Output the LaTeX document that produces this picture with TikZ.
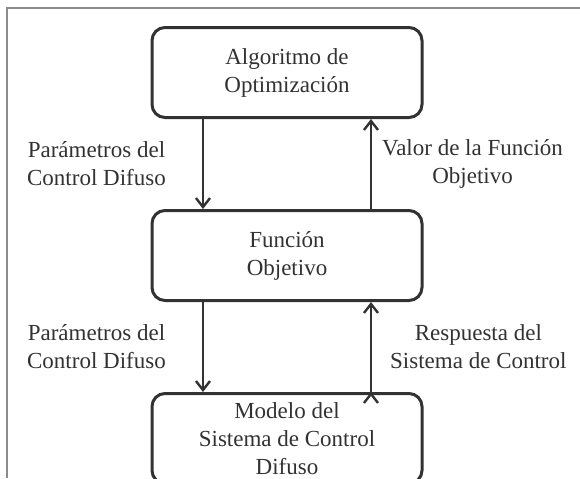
\documentclass[tikz,border=0pt]{standalone}
\usepackage{fontspec}
\setmainfont{Liberation Serif}
\usepackage{xcolor}
\usetikzlibrary{arrows.meta,positioning}
\definecolor{ink}{RGB}{50,50,50}
\definecolor{framegray}{RGB}{140,140,140}

\begin{document}
\begin{tikzpicture}[>={Straight Barb[length=4.5pt,width=7pt]},node distance=45pt,auto,
  font=\fontsize{11.5}{14}\selectfont,text=ink]
  \tikzstyle{block}=[draw=ink,line width=1.5pt,rounded corners=6.5pt,minimum width=135pt,minimum height=45pt,align=center,inner sep=0pt]
  \tikzstyle{lbl}=[align=center,inner sep=0pt]
  \useasboundingbox (0,0) rectangle (290pt,-239pt);
  \draw[framegray,line width=1pt] (3.5pt,-239pt) -- (3.5pt,-4pt) -- (290pt,-4pt);
  \node[block] (opt) at (143.5pt,-36.25pt) {Algoritmo de\\Optimización};
  \node[block] (fun) [below=of opt] {Función\\Objetivo};
  \node[block] (mod) [below=of fun] {Modelo del\\Sistema de Control\\Difuso};
  \path[->,draw=ink,line width=1.2pt]
  ([xshift=-42pt]opt.south) edge node[lbl,left=18pt] {Parámetros del\\Control Difuso} ([xshift=-42pt]fun.north)
  ([xshift=42pt]fun.north) edge node[lbl,right=5pt] {Valor de la Función\\Objetivo} ([xshift=42pt]opt.south)
  ([xshift=-42pt]fun.south) edge node[lbl,left=18pt] {Parámetros del\\Control Difuso} ([xshift=-42pt]mod.north)
  ([xshift=42pt]mod.north) edge node[lbl,right=9pt] {Respuesta del\\Sistema de Control} ([xshift=42pt]fun.south)
  ;
\end{tikzpicture}
\end{document}
